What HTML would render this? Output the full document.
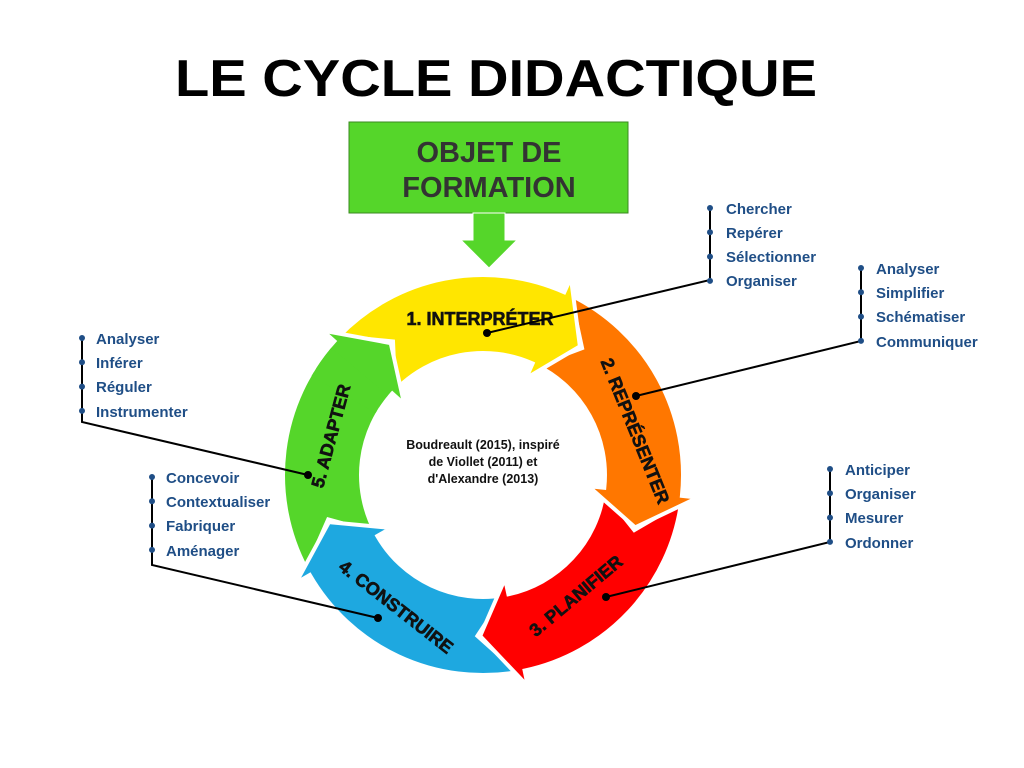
<!DOCTYPE html>
<html><head><meta charset="utf-8"><style>
html,body{margin:0;padding:0;background:#fff;width:1024px;height:768px;overflow:hidden}
svg{display:block}
.it{font-family:"Liberation Sans",sans-serif;font-size:15px;font-weight:bold;fill:#1f4e86}
</style></head><body>
<svg id="s" width="1024" height="768" viewBox="0 0 1024 768" xmlns="http://www.w3.org/2000/svg">
<text x="496" y="96" text-anchor="middle" font-family="Liberation Sans,sans-serif" font-weight="bold" font-size="52" textLength="642" lengthAdjust="spacingAndGlyphs" fill="#000">LE CYCLE DIDACTIQUE</text>
<rect x="349" y="122" width="279" height="91" fill="#55d62a" stroke="#3a8a20" stroke-width="1"/>
<text x="489" y="162" text-anchor="middle" font-family="Liberation Sans,sans-serif" font-weight="bold" font-size="29" fill="#333">OBJET DE</text>
<text x="489" y="197" text-anchor="middle" font-family="Liberation Sans,sans-serif" font-weight="bold" font-size="29" fill="#333">FORMATION</text>
<polygon points="473,213 505,213 505,240 517,240 489,268 461,240 473,240" fill="#55d62a" stroke="#fff" stroke-width="1"/>
<g id="ring"></g>
<text x="483" y="449" text-anchor="middle" font-family="Liberation Sans,sans-serif" font-weight="bold" font-size="12.5" fill="#111">Boudreault (2015), inspiré</text>
<text x="483" y="466" text-anchor="middle" font-family="Liberation Sans,sans-serif" font-weight="bold" font-size="12.5" fill="#111">de Viollet (2011) et</text>
<text x="483" y="483" text-anchor="middle" font-family="Liberation Sans,sans-serif" font-weight="bold" font-size="12.5" fill="#111">d'Alexandre (2013)</text>
<g font-family="Liberation Sans,sans-serif" font-weight="bold" font-size="18" fill="#111" stroke="#111" stroke-width="0.6" text-anchor="middle">
<text x="480" y="325">1. INTERPRÉTER</text>
<text transform="translate(635,431) rotate(68)" dy="6">2. REPRÉSENTER</text>
<text transform="translate(576,596) rotate(-40)" dy="6">3. PLANIFIER</text>
<text transform="translate(396,607) rotate(38)" dy="6">4. CONSTRUIRE</text>
<text transform="translate(331,436) rotate(-75)" dy="6">5. ADAPTER</text>
</g>
<g stroke="#000" stroke-width="2" fill="none">
<polyline points="487,333 710,280 710,208"/>
<polyline points="636,396 861,341 861,268"/>
<polyline points="606,597 830,542 830,469"/>
<polyline points="378,618 152,565 152,477"/>
<polyline points="308,475 82,422 82,338"/>
</g>
<g fill="#000"><circle cx="487" cy="333" r="4"/><circle cx="636" cy="396" r="4"/><circle cx="606" cy="597" r="4"/><circle cx="378" cy="618" r="4"/><circle cx="308" cy="475" r="4"/></g>
<g id="dots" fill="#1f4e86"></g>
<text class="it" x="726" y="214">Chercher</text><text class="it" x="726" y="238">Repérer</text><text class="it" x="726" y="262">Sélectionner</text><text class="it" x="726" y="286">Organiser</text>
<text class="it" x="876" y="274">Analyser</text><text class="it" x="876" y="298">Simplifier</text><text class="it" x="876" y="322">Schématiser</text><text class="it" x="876" y="347">Communiquer</text>
<text class="it" x="845" y="475">Anticiper</text><text class="it" x="845" y="499">Organiser</text><text class="it" x="845" y="523">Mesurer</text><text class="it" x="845" y="548">Ordonner</text>
<text class="it" x="166" y="483">Concevoir</text><text class="it" x="166" y="507">Contextualiser</text><text class="it" x="166" y="531">Fabriquer</text><text class="it" x="166" y="556">Aménager</text>
<text class="it" x="96" y="344">Analyser</text><text class="it" x="96" y="368">Inférer</text><text class="it" x="96" y="392">Réguler</text><text class="it" x="96" y="417">Instrumenter</text>
</svg>
<script>
var cx=483,cy=475,R=200,r=122,m=161,H=13,W=16;
function p(a,rr){a=a*Math.PI/180;return (cx+rr*Math.sin(a)).toFixed(1)+","+(cy-rr*Math.cos(a)).toFixed(1);}
var order=[[-35,37,"#ffe600"],[37,109,"#ff7700"],[109,181,"#ff0000"],[181,253,"#1ea8e0"],[253,325,"#55d62a"]];
var g=document.getElementById("ring"),out="";
for(var i=order.length-1;i>=0;i--){
 var a0=order[i][0],a1=order[i][1],h=a1-H,t=a0-H+2;
 var d="M"+p(t,R)+" A"+R+","+R+" 0 0 1 "+p(h,R)+" L"+p(h,R+W)+" L"+p(a1,m)+" L"+p(h,r-W)+" L"+p(h,r)+" A"+r+","+r+" 0 0 0 "+p(t,r)+" L"+p(a0+1,m)+" Z";
 out+='<path d="'+d+'" fill="'+order[i][2]+'" stroke="#fff" stroke-width="4" stroke-linejoin="miter"/>';
}
var a0=253,a1=325,h=a1-H;
out+='<path d="M'+p(h-10,R)+" A"+R+","+R+" 0 0 1 "+p(h,R)+" L"+p(h,R+W)+" L"+p(a1,m)+" L"+p(h,r-W)+" L"+p(h,r)+" A"+r+","+r+" 0 0 0 "+p(h-10,r)+' Z" fill="#55d62a" stroke="#fff" stroke-width="4"/>';
out+='<path d="M'+p(h-12,R-2)+" A"+(R-2)+","+(R-2)+" 0 0 1 "+p(h-2,R-2)+" L"+p(h-2,r+2)+" A"+(r+2)+","+(r+2)+" 0 0 0 "+p(h-12,r+2)+' Z" fill="#55d62a"/>';
g.innerHTML=out;
var dd="",bars=[[710,208],[861,268],[830,469],[152,477],[82,338]];
bars.forEach(function(b){for(var k=0;k<4;k++)dd+='<circle cx="'+b[0]+'" cy="'+(b[1]+k*24.3)+'" r="3"/>';});
document.getElementById("dots").innerHTML=dd;
</script>
</body></html>
